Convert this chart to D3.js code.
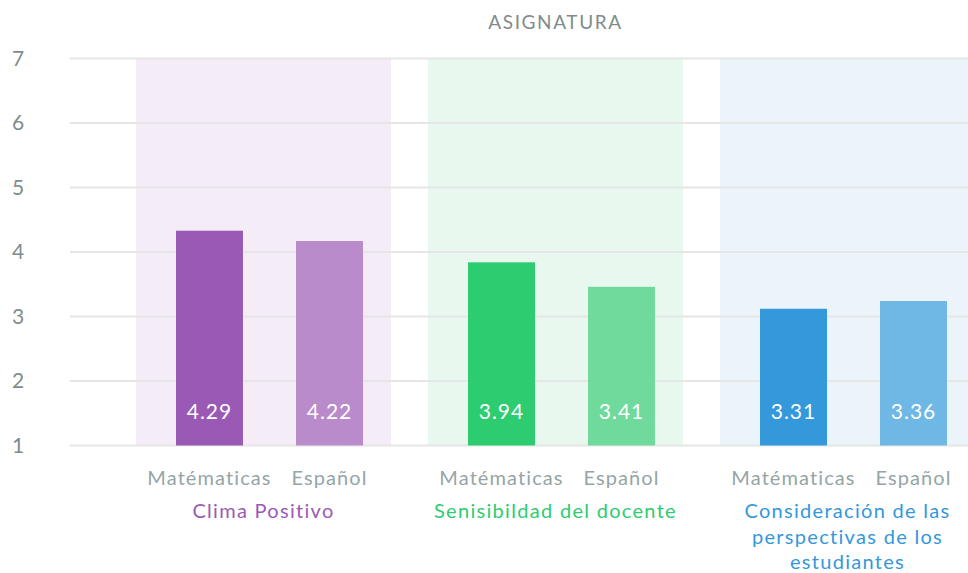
<!DOCTYPE html>
<html>
<head>
<meta charset="utf-8">
<script src="https://cdn.jsdelivr.net/npm/d3@7"></script>
<style>
  body { margin: 0; background: #fff; }
  text { font-family: Lato, 'Noto Sans', sans-serif; }
</style>
</head>
<body>
<script>
const width = 968
const height = 573

// data
const groups = ['Clima Positivo', 'Senisibildad del docente', 'Consideración de las perspectivas de los estudiantes']
const groupLines = [['Clima Positivo'], ['Senisibildad del docente'], ['Consideración de las', 'perspectivas de los', 'estudiantes']]
const subjects = ['Matématicas', 'Español']
const scoreLabels = [['4.29', '4.22'], ['3.94', '3.41'], ['3.31', '3.36']]
// bar heights as drawn in the picture
const barValues = [[4.33, 4.17], [3.84, 3.46], [3.12, 3.24]]
const yTicks = [1, 2, 3, 4, 5, 6, 7]

const groupColor = ['#9b59b6', '#2ecc71', '#3498db']
const barColor = [['#9b59b6', '#b98bca'], ['#2ecc71', '#6fda9c'], ['#3498db', '#6fb8e5']]
const bandColor = ['#f4ecf7', '#e8f8ef', '#ebf4fb']

const svg = d3.select('body')
  .append('svg')
  .attr('width', width)
  .attr('height', height)

const y = d3.scaleLinear()
  .domain([1, 7])
  .range([445.5, 58.5])

const x0 = d3.scaleBand()
  .domain(groups)
  .range([117.5, 993.5])
  .paddingInner(37 / 292)
  .paddingOuter(37 / 584)

const x1 = d3.scaleBand()
  .domain(subjects)
  .range([40, 227])
  .paddingInner(0.4417)
  .paddingOuter(0)

// background bands
svg.selectAll('.band')
  .data(groups)
  .enter()
  .append('rect')
  .classed('band', true)
  .attr('x', (d) => x0(d))
  .attr('y', y(7))
  .attr('width', x0.bandwidth())
  .attr('height', y(1) - y(7))
  .attr('fill', (d, i) => bandColor[i])

// grid
svg.selectAll('.grid')
  .data(yTicks)
  .enter()
  .append('line')
  .classed('grid', true)
  .attr('x1', 70)
  .attr('x2', width)
  .attr('y1', (d) => y(d))
  .attr('y2', (d) => y(d))
  .attr('stroke', '#e6e6e6')
  .attr('stroke-width', 2)

svg.selectAll('.ytick')
  .data(yTicks)
  .enter()
  .append('text')
  .classed('ytick', true)
  .attr('x', 12)
  .attr('y', (d) => y(d))
  .attr('dy', '0.35em')
  .attr('fill', '#7f8c8d')
  .attr('font-size', 21)
  .text((d) => d)

svg.append('text')
  .attr('x', x0(groups[0]) + (x0(groups[2]) + x0.bandwidth() - x0(groups[0])) / 2)
  .attr('y', 29)
  .attr('text-anchor', 'middle')
  .attr('fill', '#7f8c8d')
  .attr('font-size', 19)
  .attr('letter-spacing', 1.6)
  .text('ASIGNATURA')

const g = svg.selectAll('.group')
  .data(groups)
  .enter()
  .append('g')
  .classed('group', true)
  .attr('transform', (d) => `translate(${x0(d)},0)`)

g.each(function (grp, gi) {
  const sel = d3.select(this)
  subjects.forEach((s, si) => {
    const v = barValues[gi][si]
    const cx = x1(s) + x1.bandwidth() / 2
    sel.append('rect')
      .attr('x', x1(s))
      .attr('y', y(v))
      .attr('width', x1.bandwidth())
      .attr('height', y(1) - y(v))
      .attr('fill', barColor[gi][si])
    sel.append('text')
      .attr('x', cx)
      .attr('y', 419)
      .attr('text-anchor', 'middle')
      .attr('fill', '#fff')
      .attr('font-size', 21)
      .attr('letter-spacing', 1)
      .text(scoreLabels[gi][si])
    sel.append('text')
      .attr('x', cx)
      .attr('y', 485)
      .attr('text-anchor', 'middle')
      .attr('fill', '#95a5a6')
      .attr('font-size', 20)
      .attr('letter-spacing', 1.1)
      .text(s)
  })
  const label = sel.append('text')
    .attr('text-anchor', 'middle')
    .attr('fill', groupColor[gi])
    .attr('font-size', 20)
    .attr('letter-spacing', 1.3)
  label.selectAll('tspan')
    .data(groupLines[gi])
    .enter()
    .append('tspan')
    .attr('x', x0.bandwidth() / 2)
    .attr('y', (d, i) => 518 + i * 25.5)
    .text((d) => d)
})
</script>
</body>
</html>
